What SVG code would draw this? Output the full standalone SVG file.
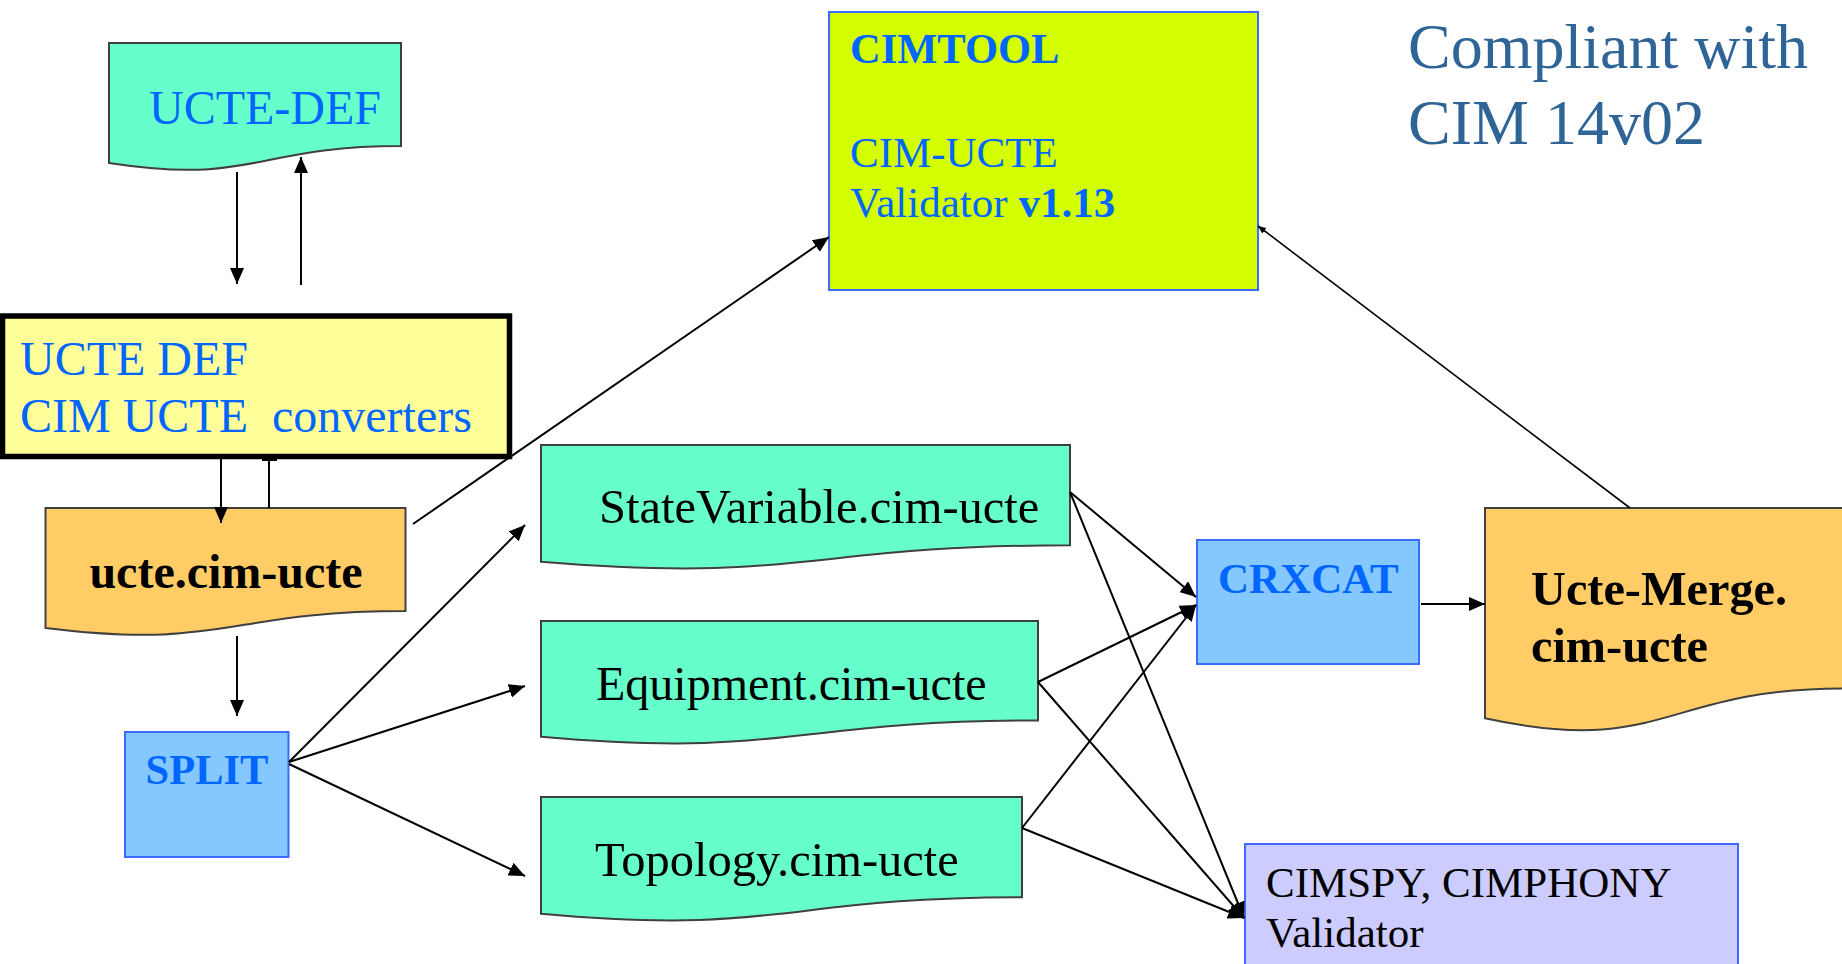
<svg xmlns="http://www.w3.org/2000/svg" width="1842" height="964" viewBox="0 0 1842 964">
<defs>
<marker id="ah" markerUnits="userSpaceOnUse" markerWidth="16" markerHeight="14" refX="16" refY="7" orient="auto"><path d="M0,0 L16,7 L0,14 z" fill="#000"/></marker>
<marker id="ahs" markerUnits="userSpaceOnUse" markerWidth="8" markerHeight="7" refX="8" refY="3.5" orient="auto"><path d="M0,0 L8,3.5 L0,7 z" fill="#000"/></marker>
<style>
.doc{stroke:#404040;stroke-width:2}
.green{fill:#66FFCC}
.orange{fill:#FFCC66}
.box{stroke:#3D6BFF;stroke-width:2}
.t{font-family:"Liberation Serif","Times New Roman",serif}
.blue{fill:#0066FF}
.blk{fill:#000}
.b{font-weight:bold}
.c{stroke:#000;stroke-width:2;fill:none}
.ca{marker-end:url(#ah)}
</style>
</defs>
<rect width="1842" height="964" fill="#fff"/>
<g id="ucte-def">
<path class="doc green" d="M109,43 H401 V146.1 C255,146.1 255,185.3 109,163 Z"/>
<text class="t blue" x="149" y="124" font-size="48">UCTE-DEF</text>
</g>
<g id="converters">
<rect x="2.5" y="316" width="507" height="140.5" fill="#FFFF99" stroke="#000" stroke-width="5.5"/>
<text class="t blue" x="20" y="375" font-size="48">UCTE DEF</text>
<text class="t blue" x="20" y="432" font-size="48" xml:space="preserve">CIM UCTE  converters</text>
</g>
<g id="ucte-cim-ucte">
<path class="doc orange" d="M45.5,508 H405.5 V611.1 C225.5,611.1 225.5,650.3 45.5,628 Z"/>
<text class="t blk b" x="226" y="588" font-size="48" text-anchor="middle">ucte.cim-ucte</text>
</g>
<g id="split">
<rect class="box" x="125" y="732" width="163.5" height="125" fill="#85C8FF"/>
<text class="t blue b" x="207" y="784" font-size="42.5" text-anchor="middle">SPLIT</text>
</g>
<g id="cimtool">
<rect class="box" x="829" y="12" width="429" height="278" fill="#D4FF00"/>
<text class="t blue b" x="850" y="63" font-size="42.5">CIMTOOL</text>
<text class="t blue" x="850" y="167" font-size="43">CIM-UCTE</text>
<text class="t blue" x="850" y="217" font-size="43">Validator <tspan font-weight="bold">v1.13</tspan></text>
</g>
<g id="compliant">
<text class="t" x="1408" y="68" font-size="64" fill="#2F6496">Compliant with</text>
<text class="t" x="1408" y="144" font-size="64" fill="#2F6496">CIM 14v02</text>
</g>
<g id="statevariable">
<path class="doc green" d="M541,445 H1070 V545.3 C805.5,545.3 805.5,583.4 541,561.8 Z"/>
<text class="t blk" x="599" y="523" font-size="48.5">StateVariable.cim-ucte</text>
</g>
<g id="equipment">
<path class="doc green" d="M541,621 H1038 V720.4 C789.5,720.4 789.5,758.3 541,736.8 Z"/>
<text class="t blk" x="596" y="700" font-size="48">Equipment.cim-ucte</text>
</g>
<g id="topology">
<path class="doc green" d="M541,797 H1022 V897.3 C781.5,897.3 781.5,935.4 541,913.8 Z"/>
<text class="t blk" x="595" y="876" font-size="48.5">Topology.cim-ucte</text>
</g>
<g id="crxcat">
<rect class="box" x="1197" y="540" width="222" height="124" fill="#85C8FF"/>
<text class="t blue b" x="1218" y="593" font-size="43">CRXCAT</text>
</g>
<g id="ucte-merge">
<path class="doc orange" d="M1485,508 H1843 V688.5 C1664,688.5 1664,757.2 1485,718.2 Z"/>
<text class="t blk b" x="1531" y="605" font-size="48.3">Ucte-Merge.</text>
<text class="t blk b" x="1531" y="662" font-size="48.3">cim-ucte</text>
</g>
<g id="cimspy">
<rect class="box" x="1245" y="844" width="493" height="130" fill="#CCCCFF"/>
<text class="t blk" x="1266" y="897" font-size="43">CIMSPY, CIMPHONY</text>
<text class="t blk" x="1266" y="947" font-size="43">Validator</text>
</g>
<g id="connectors">
<path class="c ca" d="M237,172 L237,284"/>
<path class="c ca" d="M301,285 L301,157"/>
<path class="c ca" d="M221,459 L221,523"/>
<path class="c" d="M269,459 L269,508 M262,460 H277"/>
<path class="c ca" d="M237,636 L237,716"/>
<path class="c ca" d="M413,524 L829,237"/>
<path class="c ca" d="M289,762 L525,525"/>
<path class="c ca" d="M289,762 L525,686"/>
<path class="c ca" d="M289,764 L525,876"/>
<path class="c ca" d="M1070,492 L1196,597"/>
<path class="c ca" d="M1070,492 L1244,918"/>
<path class="c ca" d="M1038,682 L1196,605"/>
<path class="c ca" d="M1038,682 L1244,918"/>
<path class="c ca" d="M1022,828 L1196,605"/>
<path class="c ca" d="M1022,828 L1244,918"/>
<path class="c ca" d="M1421,604 L1485,604"/>
<path class="c" style="stroke-width:1.6;marker-end:url(#ahs)" d="M1630,508 L1258,226"/>
</g>
</svg>
